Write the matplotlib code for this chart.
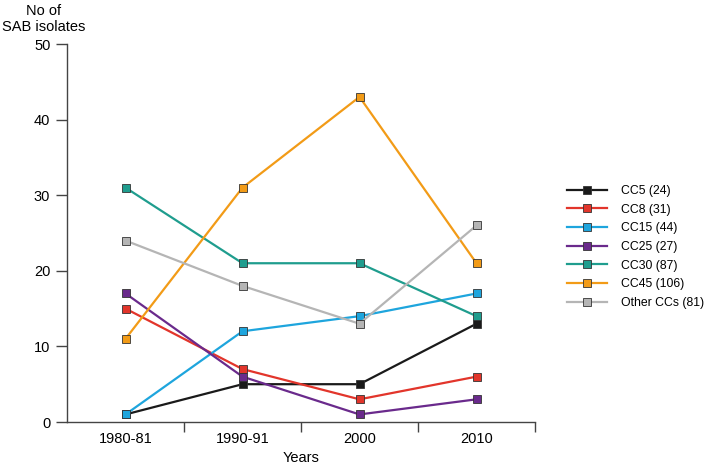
import matplotlib
matplotlib.use("Agg")
import matplotlib.pyplot as plt

plt.rcParams['font.family'] = ['Liberation Sans', 'DejaVu Sans']

years = ["1980-81", "1990-91", "2000", "2010"]
cc5 = [1, 5, 5, 13]
cc8 = [15, 7, 3, 6]
cc15 = [1, 12, 14, 17]
cc25 = [17, 6, 1, 3]
cc30 = [31, 21, 21, 14]
cc45 = [11, 31, 43, 21]
other = [24, 18, 13, 26]

series = [
    ("CC5 (24)", cc5, "#1a1a1a"),
    ("CC8 (31)", cc8, "#e2352b"),
    ("CC15 (44)", cc15, "#1ea5dd"),
    ("CC25 (27)", cc25, "#6a2a8c"),
    ("CC30 (87)", cc30, "#1f9d8e"),
    ("CC45 (106)", cc45, "#f29b17"),
    ("Other CCs (81)", other, "#b5b5b5"),
]

fig = plt.figure(figsize=(7.06, 4.69), dpi=100)
ax = fig.add_axes([67 / 706, 1 - 422 / 469, (535 - 67) / 706, (422 - 44) / 469])

x = list(range(len(years)))
for label, vals, col in series:
    ax.plot(x, vals, color=col, lw=1.6, marker='s', ms=6,
            mfc=col, mec='#333333', mew=0.6, label=label)

ax.set_xlim(-0.5, 3.5)
ax.set_ylim(0, 50)
ax.set_yticks(range(0, 51, 10))
ax.set_xticks(x)
ax.set_xticklabels(years)
ax.set_xticks([0.5, 1.5, 2.5, 3.5], minor=True)
ax.tick_params(axis='x', which='major', length=0, labelsize=10.5, pad=7)
ax.tick_params(axis='x', which='minor', length=7, width=1, color='#444444')
ax.tick_params(axis='y', length=8, width=1, color='#444444', labelsize=10.5, pad=4)

for s in ['top', 'right']:
    ax.spines[s].set_visible(False)
for s in ['left', 'bottom']:
    ax.spines[s].set_color('#444444')
    ax.spines[s].set_linewidth(1)

ax.set_xlabel("Years", fontsize=10.5, labelpad=4)
fig.text(44 / 706, 1 - 19 / 469, "No of\nSAB isolates", ha='center', va='center',
         fontsize=10.5, linespacing=1.25)

ax.legend(loc='center left', bbox_to_anchor=(567 / 706, 1 - 247 / 469),
          bbox_transform=fig.transFigure, frameon=False, borderaxespad=0,
          borderpad=0, fontsize=8.8, handlelength=3.3, labelspacing=0.55,
          handletextpad=1.1)

fig.savefig("out.png", dpi=100)
